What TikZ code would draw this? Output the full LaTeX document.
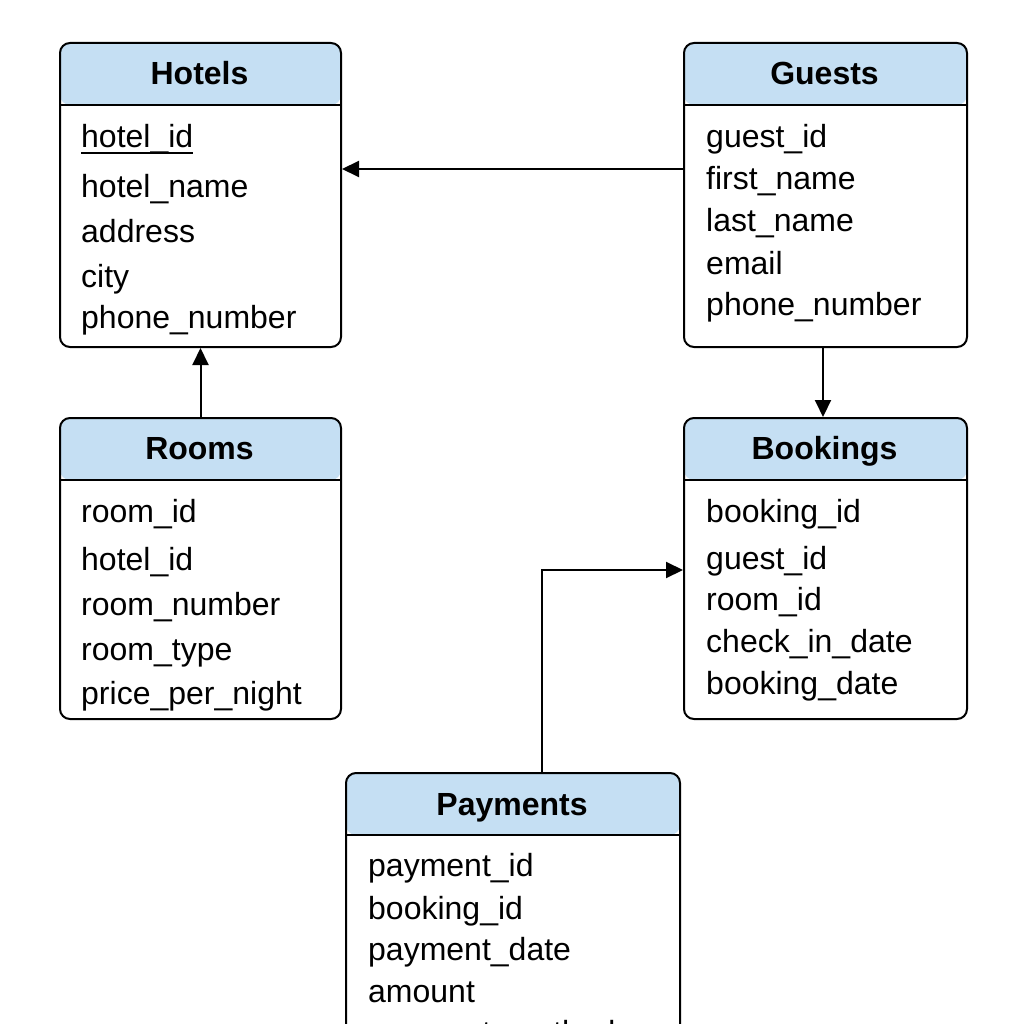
\documentclass[tikz,border=0pt]{standalone}
\usepackage{fontspec}
\setmainfont{Liberation Sans}
\usetikzlibrary{arrows.meta}
\definecolor{hdrblue}{RGB}{197,223,243}
\tikzset{
  tbl/.style={draw, line width=2pt, rounded corners=10pt, anchor=north west, inner sep=0pt,
    path picture={
      \fill[hdrblue] (path picture bounding box.north west) rectangle ([yshift=-62pt]path picture bounding box.north east);
      \draw[line width=2pt] ([yshift=-62pt]path picture bounding box.north west) -- ([yshift=-62pt]path picture bounding box.north east);
    }},
  ttl/.style={font=\fontsize{32}{38}\selectfont\bfseries, anchor=base, inner sep=0pt},
  fld/.style={font=\fontsize{32}{38}\selectfont, anchor=base west, inner sep=0pt},
  conn/.style={line width=2pt, -{Triangle[length=17pt,width=16pt]}},
}
\begin{document}
\begin{tikzpicture}[x=1pt,y=-1pt]
\useasboundingbox (0,0) rectangle (1024,1024);
\clip (0,0) rectangle (1024,1024);
\fill[white] (0,0) rectangle (1024,1024);
% Hotels
\node[tbl, minimum width=281pt, minimum height=304pt] (hotels) at (59,42) {};
\node[ttl] (hotels-t) at (199.5,85) {Hotels};
\node[fld] (h1) at (81,148) {hotel\_id};
\draw[line width=1.8pt] ([yshift=-5pt]h1.base west) -- ([yshift=-5pt]h1.base east);
\node[fld] (h2) at (81,198) {hotel\_name};
\node[fld] (h3) at (81,243) {address};
\node[fld] (h4) at (81,287) {city};
\node[fld] (h5) at (81,328) {phone\_number};
% Guests
\node[tbl, minimum width=283pt, minimum height=304pt] (guests) at (683,42) {};
\node[ttl] (guests-t) at (824.5,85) {Guests};
\node[fld] (g1) at (706,148) {guest\_id};
\node[fld] (g2) at (706,190) {first\_name};
\node[fld] (g3) at (706,232) {last\_name};
\node[fld] (g4) at (706,274) {email};
\node[fld] (g5) at (706,315) {phone\_number};
% Rooms
\node[tbl, minimum width=281pt, minimum height=301pt] (rooms) at (59,417) {};
\node[ttl] (rooms-t) at (199.5,459) {Rooms};
\node[fld] (r1) at (81,522) {room\_id};
\node[fld] (r2) at (81,570) {hotel\_id};
\node[fld] (r3) at (81,615) {room\_number};
\node[fld] (r4) at (81,660) {room\_type};
\node[fld] (r5) at (81,704) {price\_per\_night};
% Bookings
\node[tbl, minimum width=283pt, minimum height=301pt] (bookings) at (683,417) {};
\node[ttl] (bookings-t) at (824.5,459) {Bookings};
\node[fld] (b1) at (706,522) {booking\_id};
\node[fld] (b2) at (706,569) {guest\_id};
\node[fld] (b3) at (706,610) {room\_id};
\node[fld] (b4) at (706,652) {check\_in\_date};
\node[fld] (b5) at (706,694) {booking\_date};
% Payments
\node[tbl, minimum width=334pt, minimum height=290pt] (payments) at (345,772) {};
\node[ttl] (payments-t) at (512,815) {Payments};
\node[fld] (p1) at (368,876) {payment\_id};
\node[fld] (p2) at (368,919) {booking\_id};
\node[fld] (p3) at (368,960) {payment\_date};
\node[fld] (p4) at (368,1002) {amount};
\node[fld] (p5) at (368,1043) {payment\_method};
% connectors
\draw[conn] (guests.west |- 0,169) -- (hotels.east |- 0,169);
\draw[conn] (rooms.north) -- (hotels.south);
\draw[conn] (guests.south -| 823,0) -- (bookings.north -| 823,0);
\draw[conn] (payments.north -| 542,0) |- (bookings.west |- 0,570);
\end{tikzpicture}
\end{document}
